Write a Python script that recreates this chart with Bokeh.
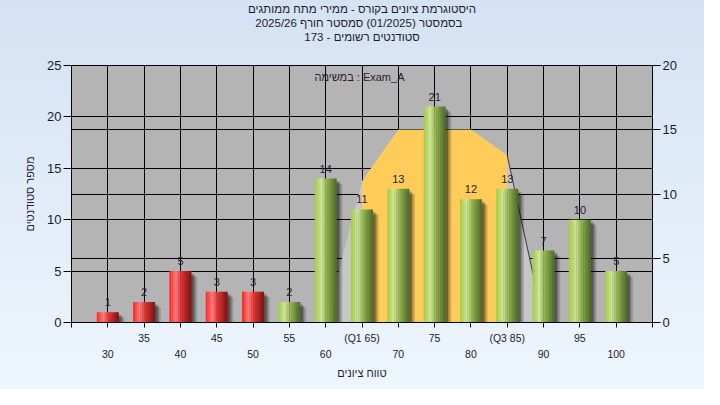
import math
from bokeh.plotting import figure
from bokeh.models import Range1d, LinearAxis, FixedTicker, Grid, Label, Title
from bokeh.embed import file_html
from bokeh.resources import INLINE
from bokeh.core.properties import value

# ---------------- data ----------------
title_lines = [
    "היסטוגרמת ציונים בקורס - ממירי מתח ממותגים",
    "בסמסטר  (01/2025)  סמסטר חורף 2025/26",
    "סטודנטים רשומים - 173",
]
task_label = "במשימה : Exam_A"
y_label = "מספר סטודנטים"
x_label = "טווח ציונים"

grade_bins = [30, 35, 40, 45, 50, 55, 60, 65, 70, 75, 80, 85, 90, 95, 100]
student_counts = [1, 2, 5, 3, 3, 2, 14, 11, 13, 21, 12, 13, 7, 10, 5]
pass_grade = 55
q1_grade = 65
q3_grade = 85

# distribution band (secondary axis units)
band_x = [60, 65, 70, 75, 80, 85, 90]
band_y = [0, 11, 15, 15, 15, 13, 0]

row1_ticks = [35, 45, 55, 65, 75, 85, 95]
row1_labels = ["35", "45", "55", "(Q1 65)", "75", "(Q3 85)", "95"]
row2_ticks = [30, 40, 50, 60, 70, 80, 90, 100]
row2_labels = ["30", "40", "50", "60", "70", "80", "90", "100"]
left_ticks = [0, 5, 10, 15, 20, 25]
right_ticks = [0, 5, 10, 15, 20]

# ---------------- style ----------------
FONT = "Liberation Sans"
TXT = "#1c1c28"
RED_STOPS = [(0.0, (255, 30, 30)), (0.3, (255, 125, 125)), (0.55, (222, 50, 50)), (1.0, (125, 18, 18))]
GREEN_STOPS = [(0.0, (159, 203, 63)), (0.3, (207, 230, 155)), (0.55, (147, 180, 82)), (1.0, (77, 106, 40))]


def grad(stops, t):
    for (t0, c0), (t1, c1) in zip(stops[:-1], stops[1:]):
        if t <= t1:
            f = (t - t0) / (t1 - t0)
            return "#%02x%02x%02x" % tuple(int(round(a + (b - a) * f)) for a, b in zip(c0, c1))
    return "#%02x%02x%02x" % stops[-1][1]


step = grade_bins[1] - grade_bins[0]
x_ticks_all = [grade_bins[0] - step] + grade_bins + [grade_bins[-1] + step]

p = figure(width=704, height=389, output_backend="svg", toolbar_location=None,
           x_range=Range1d(x_ticks_all[0], x_ticks_all[-1]),
           y_range=Range1d(left_ticks[0], left_ticks[-1]),
           min_border_left=71, min_border_right=52, min_border_top=64, min_border_bottom=67)
p.title.visible = False
p.extra_y_ranges = {"right": Range1d(right_ticks[0], right_ticks[-1])}
p.background_fill_color = "#b4b4b4"
p.border_fill_color = None
p.styles = {"background-image": "linear-gradient(to bottom, #d4e2f3, #eef6fd)"}
p.outline_line_color = "black"
p.outline_line_alpha = 1.0

# spacer between the titles and the plot area, then titles (innermost first)
p.add_layout(Title(text=" ", text_font=FONT, text_font_size="11px", standoff=9), "above")
for line in reversed(title_lines):
    p.add_layout(Title(text=line, align="center", text_font=FONT, text_font_size="11.5px",
                       text_font_style="normal", text_color=TXT, standoff=0), "above")

# grids
p.xgrid.ticker = FixedTicker(ticks=x_ticks_all)
p.ygrid.ticker = FixedTicker(ticks=left_ticks)
for g in (p.xgrid[0], p.ygrid[0]):
    g.grid_line_color = "black"
    g.grid_line_alpha = 1.0
p.add_layout(Grid(dimension=1, ticker=FixedTicker(ticks=right_ticks), y_range_name="right",
                  grid_line_color="black"))

# axes
def style_axis(ax, size):
    ax.axis_line_color = "black"
    ax.major_tick_line_color = "black"
    ax.minor_tick_line_color = None
    ax.major_tick_in = 0
    ax.major_label_text_font = FONT
    ax.major_label_text_font_size = size
    ax.major_label_text_color = TXT
    ax.axis_label_text_font = FONT
    ax.axis_label_text_font_size = "11px"
    ax.axis_label_text_font_style = "normal"
    ax.axis_label_text_color = "#2a1a3a"

yl = p.yaxis[0]
yl.ticker = FixedTicker(ticks=left_ticks)
style_axis(yl, "13px")
yl.major_tick_out = 8
yl.major_label_standoff = 2
yl.axis_label = y_label
yl.axis_label_standoff = 8

yr = LinearAxis(y_range_name="right", ticker=FixedTicker(ticks=right_ticks))
style_axis(yr, "13px")
yr.major_tick_out = 8
yr.major_label_standoff = 2
p.add_layout(yr, "right")

xa = p.xaxis[0]
xa.ticker = FixedTicker(ticks=x_ticks_all)
style_axis(xa, "10.5px")
xa.major_tick_out = 5
xa.major_label_standoff = 4
ov = {t: "" for t in x_ticks_all}
ov.update(dict(zip(row1_ticks, row1_labels)))
xa.major_label_overrides = ov

xb = LinearAxis(ticker=FixedTicker(ticks=row2_ticks))
style_axis(xb, "10.5px")
xb.axis_line_color = None
xb.major_tick_line_color = None
xb.major_tick_out = 0
xb.major_label_standoff = 3
xb.major_label_overrides = dict(zip(row2_ticks, row2_labels))
xb.axis_label = x_label
xb.axis_label_standoff = 6
p.add_layout(xb, "below")

# distribution band
p.varea(x=band_x, y1=0, y2=band_y, fill_color="#c6c6c6", y_range_name="right")
iqr = [(x, y) for x, y in zip(band_x, band_y) if q1_grade <= x <= q3_grade]
p.varea(x=[a for a, _ in iqr], y1=0, y2=[b for _, b in iqr], fill_color="#ffcc5a", y_range_name="right")
p.line(x=band_x[-2:], y=band_y[-2:], line_color="#3a3a3a", line_width=1, y_range_name="right")

# bar shadows
bar_w = 3.0
for dx, dy, a in [(0.35, 0.25, 0.28), (0.55, 0.4, 0.22), (0.8, 0.55, 0.16)]:
    p.vbar(x=[g + dx for g in grade_bins], top=[max(c - dy, 0) for c in student_counts],
           width=bar_w, fill_color="black", fill_alpha=a, line_color=None)

# cylinder bars
N = 12
xs, tops, cols = [], [], []
for g, c in zip(grade_bins, student_counts):
    stops = RED_STOPS if g < pass_grade else GREEN_STOPS
    for i in range(N):
        t = (i + 0.5) / N
        xs.append(g - bar_w / 2 + t * bar_w)
        tops.append(c)
        cols.append(grad(stops, t))
p.vbar(x=xs, top=tops, width=bar_w / N * 1.15, fill_color=cols, line_color=None)

# value labels
p.text(x=grade_bins, y=student_counts, text=[str(c) for c in student_counts],
       text_align="center", text_baseline="bottom", y_offset=-6,
       text_font=value(FONT), text_font_size="11px", text_color="#2a2030")

# task label inside the plot
p.add_layout(Label(x=288, y=246, x_units="screen", y_units="screen", text=task_label,
                   text_align="center", text_baseline="middle",
                   text_font=FONT, text_font_size="11px", text_color="#2a1a3a"))

open("out.html", "w").write(file_html(p, INLINE))
